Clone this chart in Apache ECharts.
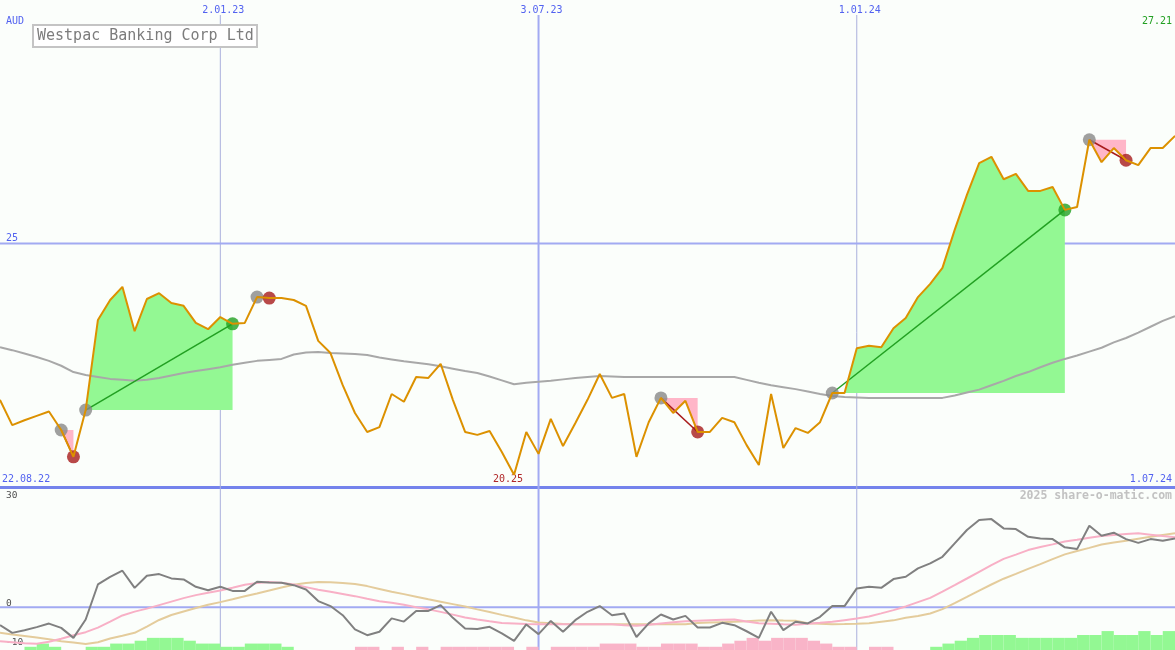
<!DOCTYPE html>
<html><head><meta charset="utf-8">
<script src="https://cdn.jsdelivr.net/npm/echarts@6/dist/echarts.min.js"></script>
<style>html,body{margin:0;padding:0;background:#fbfefb}#c{width:1175px;height:650px}</style>
</head><body><div id="c"></div>
<script>
// ---------- data ----------
const firstWeek = '2022-08-29';
const price = [21.79, 21.27, 21.37, 21.46, 21.55, 21.17, 20.62, 21.58, 23.43, 23.84,
 24.11, 23.20, 23.86, 23.98, 23.78, 23.72, 23.37, 23.24, 23.49, 23.35,
 23.37, 23.90, 23.88, 23.88, 23.84, 23.72, 23.00, 22.75, 22.09, 21.52,
 21.13, 21.23, 21.91, 21.75, 22.26, 22.24, 22.53, 21.79, 21.13, 21.07,
 21.15, 20.72, 20.25, 21.13, 20.68, 21.40, 20.84, 21.31, 21.79, 22.32,
 21.83, 21.91, 20.62, 21.33, 21.83, 21.52, 21.77, 21.13, 21.13, 21.42,
 21.33, 20.86, 20.45, 21.91, 20.80, 21.21, 21.11, 21.33, 21.93, 21.93,
 22.85, 22.90, 22.87, 23.26, 23.47, 23.90, 24.17, 24.50, 25.28, 26.00,
 26.65, 26.78, 26.32, 26.43, 26.08, 26.08, 26.16, 25.69, 25.75, 27.13,
 26.67, 26.96, 26.71, 26.61, 26.96, 26.96, 27.21];
const movingAvg = [22.87, 22.81, 22.74, 22.67, 22.59, 22.49, 22.36, 22.30, 22.26, 22.22,
 22.20, 22.18, 22.20, 22.24, 22.29, 22.34, 22.38, 22.42, 22.46, 22.51,
 22.55, 22.59, 22.61, 22.63, 22.72, 22.76, 22.77, 22.75, 22.74, 22.73,
 22.71, 22.66, 22.62, 22.58, 22.55, 22.52, 22.48, 22.43, 22.38, 22.34,
 22.27, 22.19, 22.11, 22.14, 22.16, 22.18, 22.21, 22.24, 22.26, 22.28,
 22.27, 22.26, 22.26, 22.26, 22.26, 22.26, 22.26, 22.26, 22.26, 22.26,
 22.26, 22.20, 22.14, 22.09, 22.05, 22.01, 21.96, 21.91, 21.87, 21.85,
 21.84, 21.83, 21.83, 21.83, 21.83, 21.83, 21.83, 21.83, 21.88, 21.94,
 22.00, 22.09, 22.18, 22.28, 22.36, 22.46, 22.55, 22.63, 22.70, 22.78,
 22.86, 22.97, 23.06, 23.17, 23.29, 23.41, 23.51];
const oscillator = [-5.05, -7.2, -6.45, -5.6, -4.6, -5.8, -8.6, -3.45, 6.35, 8.5,
 10.2, 5.4, 8.8, 9.25, 8.05, 7.75, 5.7, 4.75, 5.7, 4.55,
 4.55, 7.1, 6.9, 6.8, 6.15, 4.95, 1.7, 0.3, -2.25, -6.25,
 -7.85, -6.9, -3.15, -4.05, -1.1, -1.05, 0.55, -3.0, -5.95, -6.15,
 -5.5, -7.35, -9.45, -4.85, -7.55, -3.85, -6.9, -3.65, -1.3, 0.3,
 -2.25, -1.75, -8.35, -4.55, -2.05, -3.45, -2.45, -5.7, -5.7, -4.4,
 -5.05, -6.75, -8.6, -1.3, -6.45, -4.1, -4.55, -2.7, 0.3, 0.3,
 5.25, 5.7, 5.4, 7.85, 8.5, 10.85, 12.25, 14.1, 17.85, 21.6,
 24.4, 24.65, 22.05, 21.85, 19.7, 19.25, 19.05, 16.75, 16.25, 22.8,
 20.0, 20.85, 19.05, 18.0, 19.05, 18.6, 19.25];
const signalFast = [-9.53, -9.81, -10.09, -10.23, -9.67, -8.83, -7.85, -7.01, -5.75, -4.07,
 -2.33, -1.26, -0.42, 0.56, 1.54, 2.52, 3.36, 4.04, 4.68, 5.41,
 6.25, 6.73, 7.06, 6.84, 6.36, 5.61, 4.85, 4.29, 3.70, 3.08,
 2.33, 1.68, 1.26, 0.64, 0, -0.62, -1.32, -2.10, -2.89, -3.45,
 -3.98, -4.43, -4.57, -4.71, -4.77, -4.77, -4.77, -4.77, -4.77, -4.77,
 -4.77, -5.05, -5.19, -4.91, -4.57, -4.26, -3.98, -3.78, -3.64, -3.53,
 -3.48, -4.01, -4.54, -4.68, -4.82, -4.93, -4.63, -4.40, -4.12, -3.64,
 -3.17, -2.61, -1.74, -0.84, 0.20, 1.40, 2.58, 4.35, 6.17, 8.02,
 9.90, 11.77, 13.51, 14.72, 15.98, 16.82, 17.58, 18.36, 18.84, 19.40,
 19.90, 20.19, 20.47, 20.66, 20.30, 19.90, 19.54];
const signalSlow = [-7.20, -7.63, -8.05, -8.49, -8.97, -9.53, -9.92, -10.34, -9.81, -8.77,
 -7.99, -7.18, -5.44, -3.59, -2.19, -1.21, -0.25, 0.67, 1.40, 2.19,
 3.03, 3.84, 4.68, 5.52, 6.28, 6.78, 7.06, 6.95, 6.76, 6.50,
 5.89, 5.10, 4.32, 3.64, 2.92, 2.19, 1.51, 0.84, 0.17, -0.62,
 -1.37, -2.16, -2.92, -3.70, -4.29, -4.51, -4.71, -4.77, -4.77, -4.77,
 -4.77, -4.77, -4.77, -4.77, -4.77, -4.77, -4.77, -4.43, -4.32, -4.21,
 -4.12, -3.95, -3.76, -3.64, -3.73, -3.81, -4.49, -4.63, -4.77, -4.71,
 -4.63, -4.49, -4.09, -3.70, -2.97, -2.47, -1.79, -0.56, 1.12, 2.86,
 4.63, 6.34, 7.96, 9.31, 10.71, 12.05, 13.43, 14.77, 15.73, 16.60,
 17.52, 18.11, 18.62, 19.18, 19.68, 20.19, 20.66];
const histogram = [0, 0, 0.9, 1.8, 0.9, 0, 0, 0.9, 0.9, 1.8,
 1.8, 2.6, 3.4, 3.4, 3.4, 2.6, 1.8, 1.8, 0.9, 0.9,
 1.8, 1.8, 1.8, 0.9, 0, 0, 0, 0, 0, -0.9,
 -0.9, 0, -0.9, 0, -0.9, 0, -0.9, -0.9, -0.9, -0.9,
 -0.9, -0.9, 0, -0.9, 0, -0.9, -0.9, -0.9, -0.9, -1.8,
 -1.8, -1.8, -0.9, -0.9, -1.8, -1.8, -1.8, -0.9, -0.9, -1.8,
 -2.6, -3.4, -2.6, -3.4, -3.4, -3.4, -2.6, -1.8, -0.9, -0.9,
 0, -0.9, -0.9, 0, 0, 0, 0.9, 1.8, 2.6, 3.4,
 4.2, 4.2, 4.2, 3.4, 3.4, 3.4, 3.4, 3.4, 4.2, 4.2,
 5.3, 4.2, 4.2, 5.3, 4.2, 5.3];
const entryDates = ['2022-10-03', '2022-10-17', '2023-01-23', '2023-09-11', '2023-12-18', '2024-05-13'];
const exitDates  = ['2022-10-10', '2023-01-09', '2023-01-30', '2023-10-02', '2024-04-29', '2024-06-03'];
const topTicks = ['2023-01-02', '2023-07-03', '2024-01-01'];
const topTickLabels = ['2.01.23', '3.07.23', '1.01.24'];
const rangeLabels = ['22.08.22', '1.07.24'];
const priceTicks = [25];
const lowerTicks = [30, 0, -10];
const titleText = 'Westpac Banking Corp Ltd';
const currency = 'AUD';
const credit = '2025 share-o-matic.com';

// ---------- build ----------
const dates = [];
{ const t0 = Date.parse(firstWeek + 'T00:00:00Z');
  for (let i = 0; i < price.length; i++) dates.push(new Date(t0 + i * 7 * 86400000).toISOString().slice(0, 10)); }
const histCats = dates.slice(0, dates.length - 1);
const first = dates[0], last = dates[dates.length - 1];

const MONO = '"DejaVu Sans Mono", "Liberation Mono", monospace';
const BLUE = '#5262f0';
const GRID_BLUE = '#a2aaf2';
const GREEN_FILL = '#93f893';
const PINK_FILL = '#ffb6c8';
const GREEN = '#22a022';
const RED = '#a81c1c';

const series = [];
// vertical date lines (overlay grid)
topTicks.forEach((t, k) => series.push({
  type: 'line', xAxisIndex: 3, yAxisIndex: 3, data: [[t, 0], [t, 1]], symbol: 'none', silent: true, z: 1,
  lineStyle: { color: k === 1 ? GRID_BLUE : '#aab0dc', width: k === 1 ? 2 : 1 }
}));
// price gridline at 25
priceTicks.forEach(v => series.push({
  type: 'line', xAxisIndex: 0, yAxisIndex: 0, data: [[first, v], [last, v]], symbol: 'none', silent: true, z: 1,
  lineStyle: { color: GRID_BLUE, width: 2 }
}));
// zero line lower panel
series.push({ type: 'line', xAxisIndex: 1, yAxisIndex: 1, data: [[first, 0], [last, 0]], symbol: 'none', silent: true, z: 1,
  lineStyle: { color: GRID_BLUE, width: 2 } });
// histogram
series.push({ type: 'bar', xAxisIndex: 2, yAxisIndex: 2, barCategoryGap: '0%', silent: true, z: 2,
  data: histogram.map(v => ({ value: Math.abs(v), itemStyle: { color: v >= 0 ? GREEN_FILL : '#f9b4c8' } })) });
// lower lines
series.push({ type: 'line', xAxisIndex: 1, yAxisIndex: 1, data: signalSlow, symbol: 'none', silent: true, z: 3,
  lineStyle: { color: '#e4cc9c', width: 2 } });
series.push({ type: 'line', xAxisIndex: 1, yAxisIndex: 1, data: signalFast, symbol: 'none', silent: true, z: 3,
  lineStyle: { color: '#f8b0c6', width: 2 } });
series.push({ type: 'line', xAxisIndex: 1, yAxisIndex: 1, data: oscillator, symbol: 'none', silent: true, z: 4,
  lineStyle: { color: '#808080', width: 2 } });
// trade fills
const trades = entryDates.map((d, k) => {
  const e = dates.indexOf(d), x = dates.indexOf(exitDates[k]);
  return { e, x, win: price[x] > price[e] };
});
trades.forEach(t => series.push({
  type: 'line', xAxisIndex: 0, yAxisIndex: 0, symbol: 'none', silent: true, z: 2,
  data: price.map((p, i) => (i >= t.e && i <= t.x) ? p : null),
  lineStyle: { width: 0, opacity: 0 },
  areaStyle: { origin: price[t.e], color: t.win ? GREEN_FILL : PINK_FILL, opacity: 1 }
}));
// moving average
series.push({ type: 'line', xAxisIndex: 0, yAxisIndex: 0, data: movingAvg, symbol: 'none', silent: true, z: 3,
  lineStyle: { color: '#a8a8a8', width: 2 } });
// connectors
trades.forEach(t => series.push({
  type: 'line', xAxisIndex: 0, yAxisIndex: 0, symbol: 'none', silent: true, z: 4,
  data: [[dates[t.e], price[t.e]], [dates[t.x], price[t.x]]],
  lineStyle: { color: t.win ? GREEN : RED, width: 1.5 }
}));
// dots
series.push({ type: 'scatter', xAxisIndex: 0, yAxisIndex: 0, symbolSize: 13, silent: true, z: 5,
  itemStyle: { color: '#888888' }, data: trades.map(t => [dates[t.e], price[t.e]]) });
series.push({ type: 'scatter', xAxisIndex: 0, yAxisIndex: 0, symbolSize: 13, silent: true, z: 5,
  data: trades.map(t => ({ value: [dates[t.x], price[t.x]], itemStyle: { color: t.win ? GREEN : RED } })) });
// price
series.push({ type: 'line', xAxisIndex: 0, yAxisIndex: 0, data: price, symbol: 'none', silent: true, z: 6,
  lineStyle: { color: '#dc9100', width: 2 },
  markPoint: { silent: true, symbolSize: 1, itemStyle: { color: 'rgba(0,0,0,0)' },
    data: [{ type: 'min' }],
    label: { show: true, position: 'inside', offset: [-6, 5], formatter: p => p.value.toFixed(2),
      color: '#b02828', fontFamily: MONO, fontSize: 10 } } });

const lblFont = { fontFamily: MONO, fontSize: 10 };
const option = {
  animation: false,
  backgroundColor: '#fbfefb',
  title: { text: titleText, left: 33, top: 25, padding: [4, 4, 3, 4], borderColor: '#c4c4c4', borderWidth: 2,
    backgroundColor: '#ffffff', textStyle: { fontFamily: MONO, fontSize: 15, fontWeight: 'normal', color: '#7c7c7c', lineHeight: 15 } },
  grid: [
    { left: 0, right: 0, top: 0, height: 487, containLabel: false, outerBoundsMode: 'none' },
    { left: 0, right: 0, top: 500, height: 150, containLabel: false, outerBoundsMode: 'none' },
    { left: 0, right: 0, top: 15, bottom: 0, containLabel: false, outerBoundsMode: 'none' }
  ],
  xAxis: [
    { type: 'category', gridIndex: 0, data: dates, boundaryGap: false,
      axisLine: { show: true, lineStyle: { color: '#7483ec', width: 3 } }, axisTick: { show: false }, axisLabel: { show: false }, splitLine: { show: false } },
    { type: 'category', gridIndex: 1, data: dates, boundaryGap: false, show: false },
    { type: 'category', gridIndex: 1, data: histCats, boundaryGap: true, show: false },
    { type: 'category', gridIndex: 2, data: dates, boundaryGap: false, position: 'top',
      axisLine: { show: false }, axisTick: { show: false }, splitLine: { show: false },
      axisLabel: { show: true, margin: 0, interval: (i, v) => topTicks.includes(v), padding: [0, 0, 0, 6],
        formatter: v => topTickLabels[topTicks.indexOf(v)] || '', color: BLUE, ...lblFont } }
  ],
  yAxis: [
    { type: 'value', gridIndex: 0, min: 20, max: 30, interval: 5,
      axisLine: { show: false }, axisTick: { show: false }, splitLine: { show: false },
      axisLabel: { inside: true, margin: 6, verticalAlign: 'bottom', color: BLUE, ...lblFont,
        formatter: v => priceTicks.includes(v) ? String(v) : '' } },
    { type: 'value', gridIndex: 1, min: -12, max: 30, interval: 2,
      axisLine: { show: false }, axisTick: { show: false }, splitLine: { show: false },
      axisLabel: { inside: true, margin: 6, color: '#505050', fontFamily: MONO, fontSize: 9.5,
        formatter: v => lowerTicks.includes(v) ? (v < 0 ? '{m|' + v + '}' : '{u|' + v + '}') : '',
        rich: { u: { fontFamily: MONO, fontSize: 9.5, color: '#505050', padding: [0, 0, 8, 0] },
                m: { fontFamily: MONO, fontSize: 9.5, color: '#505050' } } } },
    { type: 'value', gridIndex: 1, min: 0, max: 42, show: false },
    { type: 'value', gridIndex: 2, min: 0, max: 1, show: false }
  ],
  graphic: [
    { type: 'text', left: 6, top: 16, silent: true, style: { text: currency, fill: BLUE, font: '10px ' + MONO } },
    { type: 'text', right: 3, top: 16, silent: true, style: { text: price[price.length - 1].toFixed(2), fill: GREEN, font: '10px ' + MONO } },
    { type: 'text', left: 2, top: 474, silent: true, style: { text: rangeLabels[0], fill: BLUE, font: '10px ' + MONO } },
    { type: 'text', right: 3, top: 474, silent: true, style: { text: rangeLabels[1], fill: BLUE, font: '10px ' + MONO } },
    { type: 'text', right: 3, top: 490, silent: true, style: { text: credit, fill: '#c2c2c2', font: 'bold 11.5px ' + MONO } }
  ],
  series
};
const chart = echarts.init(document.getElementById('c'));
chart.setOption(option);
</script>
</body></html>
